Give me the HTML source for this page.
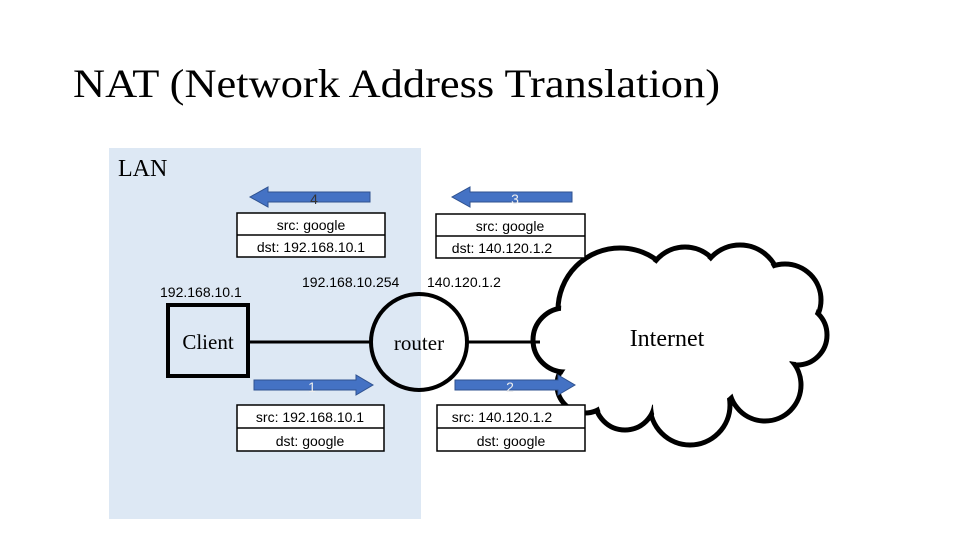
<!DOCTYPE html>
<html><head><meta charset="utf-8"><style>
html,body{margin:0;padding:0;background:#fff;width:960px;height:540px;overflow:hidden}
svg{display:block}
.s{font-family:"Liberation Sans",sans-serif;font-size:14px;fill:#000}
.r{font-family:"Liberation Serif",serif;fill:#000}
</style></head><body>
<svg width="960" height="540" viewBox="0 0 960 540">
<rect x="109" y="148" width="312" height="371" fill="#dde8f4"/>
<text x="73" y="97" class="r" font-size="40" textLength="647" lengthAdjust="spacingAndGlyphs">NAT (Network Address Translation)</text>
<text x="118" y="176" class="r" font-size="24">LAN</text>
<!-- cloud -->
<g stroke="#000" stroke-width="5" fill="#fff">
<circle cx="620" cy="310" r="62"/><circle cx="685" cy="285" r="38"/><circle cx="740" cy="285" r="40"/>
<circle cx="785" cy="300" r="36"/><circle cx="797" cy="335" r="30"/><circle cx="765" cy="385" r="36"/>
<circle cx="690" cy="405" r="40"/><circle cx="625" cy="400" r="30"/><circle cx="585" cy="385" r="28"/>
<circle cx="565" cy="340" r="32"/>
</g>
<g fill="#fff">
<circle cx="620" cy="310" r="59"/><circle cx="685" cy="285" r="35"/><circle cx="740" cy="285" r="37"/>
<circle cx="785" cy="300" r="33"/><circle cx="797" cy="335" r="27"/><circle cx="765" cy="385" r="33"/>
<circle cx="690" cy="405" r="37"/><circle cx="625" cy="400" r="27"/><circle cx="585" cy="385" r="25"/>
<circle cx="565" cy="340" r="29"/><circle cx="685" cy="345" r="68"/><circle cx="610" cy="365" r="40"/>
<circle cx="750" cy="340" r="45"/>
</g>
<text x="667" y="346" class="r" font-size="24" text-anchor="middle">Internet</text>
<!-- lines -->
<line x1="248" y1="342" x2="372" y2="342" stroke="#000" stroke-width="3"/>
<line x1="467" y1="342" x2="540" y2="342" stroke="#000" stroke-width="3"/>
<circle cx="419" cy="342" r="48" fill="none" stroke="#000" stroke-width="4"/>
<text x="419" y="350" class="r" font-size="21" text-anchor="middle">router</text>
<rect x="168" y="305" width="80" height="71" fill="none" stroke="#000" stroke-width="4"/>
<text x="208" y="349" class="r" font-size="21" text-anchor="middle">Client</text>
<text x="160" y="297" class="s">192.168.10.1</text>
<text x="302" y="287" class="s">192.168.10.254</text>
<text x="427" y="287" class="s">140.120.1.2</text>
<!-- arrows -->
<g fill="#4472c4" stroke="#2f528f" stroke-width="1">
<polygon points="370,192 268,192 268,187 250,197 268,207 268,202 370,202"/>
<polygon points="572,192 470,192 470,187 452,197 470,207 470,202 572,202"/>
<polygon points="254,380 356,380 356,375 373,385 356,395 356,390 254,390"/>
<polygon points="455,380 558,380 558,375 575,385 558,395 558,390 455,390"/>
</g>
<g class="s" text-anchor="middle" font-size="14">
<text x="314" y="204" style="fill:#333">4</text><text x="515" y="204" style="fill:#eee">3</text>
<text x="312" y="392" style="fill:#eee">1</text><text x="510" y="392" style="fill:#eee">2</text>
</g>
<!-- boxes -->
<g fill="#fff" stroke="#000" stroke-width="1.5">
<rect x="237" y="213" width="148" height="44"/><line x1="237" y1="235" x2="385" y2="235"/>
<rect x="436" y="214" width="149" height="44"/><line x1="436" y1="236" x2="585" y2="236"/>
<rect x="237" y="405" width="147" height="46"/><line x1="237" y1="428" x2="384" y2="428"/>
<rect x="437" y="405" width="148" height="46"/><line x1="437" y1="428" x2="585" y2="428"/>
</g>
<g class="s" text-anchor="middle">
<text x="311" y="230">src: google</text><text x="311" y="252">dst: 192.168.10.1</text>
<text x="510" y="231">src: google</text><text x="502" y="253">dst: 140.120.1.2</text>
<text x="310" y="422">src: 192.168.10.1</text><text x="310" y="446">dst: google</text>
<text x="502" y="422">src: 140.120.1.2</text><text x="511" y="446">dst: google</text>
</g>
</svg>
</body></html>
